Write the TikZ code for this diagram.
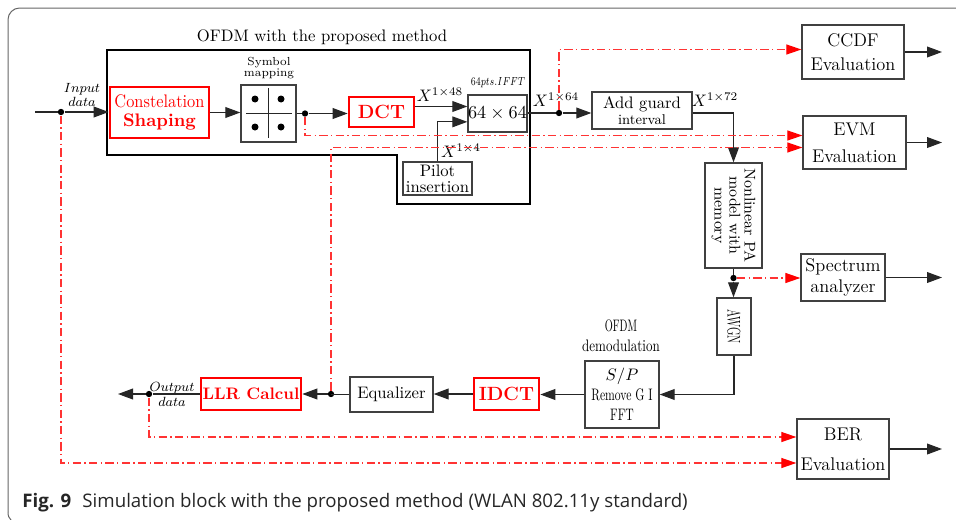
\documentclass[tikz,border=0pt]{standalone}
\usepackage{fontspec}
\newfontfamily\capfont{Open Sans}
\usetikzlibrary{arrows.meta}
\tikzset{
  bx/.style={draw=black!75, line width=0.8pt, inner sep=0pt, align=center, font=\fontsize{10.5}{13}\selectfont},
  rbx/.style={draw=red, line width=1.6pt, inner sep=0pt, align=center, text=red, font=\bfseries\fontsize{11}{13}\selectfont},
  ln/.style={draw=black!85, line width=0.7pt},
  arr/.style={ln, -{Triangle[length=9pt,width=6.5pt]}},
  rln/.style={draw=red!80, line width=0.7pt, dash pattern=on 5pt off 2pt on 0.8pt off 2pt},
  rarr/.style={rln, -{Triangle[length=9pt,width=6pt,fill=red,color=red]}},
  dotn/.style={circle, fill=black, inner sep=0pt, minimum size=3.8pt},
  lbl/.style={inner sep=0pt, align=center},
  frm/.style={draw=black!60, line width=0.6pt},
}
\begin{document}
\begin{tikzpicture}[x=0.6pt,y=-0.6pt]
\useasboundingbox (0,0) rectangle (956,519);
% page frame
\draw[frm, rounded corners=7pt] (956,8) -- (8,8) -- (8,512);
\draw[frm] (8,512) .. controls (8,516) and (9,518) .. (11,520);
% OFDM block outline
\draw[black, line width=1.1pt] (107,50) -- (530,50) -- (530,204) -- (397,204) -- (397,155) -- (107,155) -- cycle;
\node[lbl, font=\fontsize{10}{12}\selectfont] (title) at (322,37) {OFDM with the proposed method};
% boxes
\node[rbx, minimum width=59.4pt, minimum height=30.6pt, font=\fontsize{10.9}{11.5}\selectfont] (const) at (159.5,112.5) {\scalebox{0.9}[1]{Constelation}\\\textbf{Shaping}};
\node[bx, minimum width=33pt, minimum height=34.2pt] (sym) at (268.5,113.5) {};
\node[lbl, font=\fontsize{7}{6.5}\selectfont] (symlbl) at (269,68) {Symbol\\mapping};
\node[rbx, minimum width=39pt, minimum height=18pt, font=\bfseries\fontsize{11.5}{13}\selectfont] (dct) at (381.5,112) {DCT};
\node[bx, minimum width=35.4pt, minimum height=22.2pt] (ifft) at (497.5,113.5) {$64\times 64$};
\node[lbl] (ifftlbl) at (498,83) {\scalebox{0.75}[1]{$\scriptstyle 64pts.IFFT$}};
\node[bx, minimum width=41.4pt, minimum height=19.8pt, font=\fontsize{10}{9.5}\selectfont] (pilot) at (437.5,178.5) {Pilot\\insertion};
\node[bx, minimum width=60pt, minimum height=22.2pt, font=\fontsize{10}{9.6}\selectfont] (guard) at (642,110.5) {Add guard\\{\fontsize{8.5}{9.6}\selectfont interval}};
\node[bx, minimum width=61.2pt, minimum height=32.4pt, font=\fontsize{11}{14.4}\selectfont] (ccdf) at (853,52) {CCDF\\Evaluation};
\node[bx, minimum width=61.8pt, minimum height=31.8pt, font=\fontsize{11}{16}\selectfont] (evm) at (854.5,142.5) {EVM\\Evaluation};
\node[bx, minimum width=34.2pt, minimum height=63pt] (pa) at (733.5,215.5) {};
\node[lbl, rotate=-90, font=\fontsize{9.3}{9}\selectfont] (patext) at (pa.center) {Nonlinear PA\\model with\\memory};
\node[bx, minimum width=50.4pt, minimum height=28.2pt, font=\fontsize{11}{12.6}\selectfont] (spec) at (843,277.5) {Spectrum\\analyzer};
\node[bx, minimum width=20.4pt, minimum height=34.2pt] (awgn) at (734,326.5) {};
\node[lbl, rotate=-90, font=\fontsize{11}{12}\selectfont] (awgntext) at (awgn.center) {\scalebox{0.6}[1]{AWGN}};
\node[bx, minimum width=44.4pt, minimum height=40.2pt, font=\fontsize{10}{12}\selectfont] (demod) at (622,394.5) {$S/P$\\\scalebox{0.7}[1]{Remove G I}\\\scalebox{0.7}[1]{FFT}};
\node[lbl, font=\fontsize{10}{12}\selectfont] (demodlbl) at (621,336) {\scalebox{0.62}[1]{OFDM}\\\scalebox{0.78}[1]{demodulation}};
\node[rbx, minimum width=39pt, minimum height=19.2pt, font=\bfseries\fontsize{11.5}{13}\selectfont] (idct) at (506.5,394) {IDCT};
\node[bx, minimum width=49.8pt, minimum height=21pt, font=\fontsize{10}{12}\selectfont] (eq) at (391.5,394.5) {Equalizer};
\node[rbx, minimum width=60pt, minimum height=19.2pt, font=\bfseries\fontsize{10}{12}\selectfont] (llr) at (251,394) {LLR Calcul};
\node[bx, minimum width=55.2pt, minimum height=36pt, font=\fontsize{11}{18}\selectfont] (ber) at (843,449) {BER\\Evaluation};
% symbol mapping glyph
\draw[ln] (246,113.5) -- (292,113.5);
\draw[ln] (268.5,88) -- (268.5,138);
\fill (255,99) circle (2.1pt);
\fill (281,99) circle (2.1pt);
\fill (255,127) circle (2.1pt);
\fill (281,127) circle (2.1pt);
% labels
\node[lbl, font=\fontsize{7.6}{6.5}\selectfont] (inlbl) at (82,95) {$Input$\\$data$};
\node[lbl, font=\fontsize{7.6}{9}\selectfont] (outlbl) at (172,394) {$Output$\\$data$};
\node[lbl, font=\fontsize{10}{12}\selectfont] (x48) at (440,95) {$X^{1\times 48}$};
\node[lbl, font=\fontsize{10}{12}\selectfont] (x4) at (461,151) {$X^{1\times 4}$};
\node[lbl, font=\fontsize{10}{12}\selectfont] (x64) at (556,100) {$X^{1\times 64}$};
\node[lbl, font=\fontsize{10}{12}\selectfont] (x72) at (715,100) {$X^{1\times 72}$};
% dots and free ends
\node[dotn] (din) at (61,112) {};
\node[dotn] (dsym) at (305,113.5) {};
\node[dotn] (d64) at (559,113) {};
\node[dotn] (dpa) at (733.5,278) {};
\node[dotn] (deq) at (331,394) {};
\node[dotn] (dout) at (149,394) {};
\coordinate (instart) at (35,112);
\coordinate (xend) at (942,0);
\coordinate (outend) at (118,394);
% black connectors
\draw[ln] (instart) -- (din);
\draw[arr] (din) -- (din -| const.west);
\draw[arr] (const.east) -- (const.east -| sym.west);
\draw[ln] (dsym -| sym.east) -- (dsym);
\draw[arr] (dsym) -- (dsym -| dct.west);
\coordinate (dcto) at ([yshift=3.3pt]dct.east);
\draw[arr] (dcto) -- (dcto -| ifft.west);
\draw[arr] (pilot.north) |- ([yshift=-5pt]ifft.west);
\draw[ln] (d64 -| ifft.east) -- (d64);
\draw[arr] (d64) -- (d64 -| guard.west);
\draw[arr] (d64 -| guard.east) -| (pa.north);
\draw[ln] (pa.south) -- (dpa);
\draw[arr] (dpa) -- (dpa |- awgn.north);
\draw[arr] (awgn.south) |- (demod.east);
\draw[arr] (demod.west) -- (demod.west -| idct.east);
\draw[arr] (idct.west) -- (idct.west -| eq.east);
\draw[ln] (eq.west) -- (eq.west -| deq);
\draw[arr] (deq) -- (deq -| llr.east);
\draw[ln] (llr.west) -- (dout);
\draw[arr] (dout) -- (outend);
\draw[arr] (ccdf.east) -- (ccdf.east -| xend);
\draw[arr] (evm.east) -- (evm.east -| xend);
\draw[arr] (spec.east) -- (spec.east -| xend);
\draw[arr] (ber.east) -- (ber.east -| xend);
% red dash-dot connectors
\draw[rarr] (d64) |- ([yshift=1.5pt]ccdf.west);
\draw[rarr] (dsym) |- ([yshift=4.2pt]evm.west);
\draw[rarr] (deq) |- ([yshift=-3pt]evm.west);
\draw[rarr] (dpa) -- (dpa -| spec.west);
\draw[rarr] (dout) |- ([yshift=7.2pt]ber.west);
\draw[rarr] (din) |- ([yshift=-8.4pt]ber.west);
% caption
\node[lbl, anchor=base west, text=black!85, font=\capfont\fontsize{11.2}{13}\selectfont] (cap) at (22,507) {\textbf{Fig. 9}\hspace{0.6em}Simulation block with the proposed method (WLAN 802.11y standard)};
\end{tikzpicture}
\end{document}
